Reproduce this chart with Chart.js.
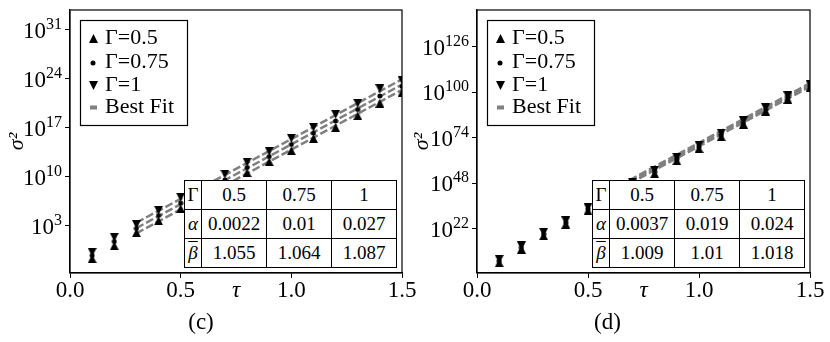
<!DOCTYPE html>
<html>
<head>
<meta charset="utf-8">
<script src="https://cdn.jsdelivr.net/npm/chart.js@4.4.1/dist/chart.umd.min.js"></script>
<style>
  body { margin: 0; background: #fff; }
  #fig { position: relative; width: 830px; height: 342px; overflow: hidden; }
  .panel { position: absolute; top: 0; height: 342px; }
  #panelC { left: 0; width: 420px; }
  #panelD { left: 405px; width: 425px; }
  .panel canvas { position: absolute; left: 0; top: 0; }
  .inset { position: absolute; top: 180px; border-collapse: collapse; table-layout: fixed; background: #fff;
           font-family: 'Liberation Serif', serif; font-size: 19px; color: #000; }
  .inset td { border: 1px solid #000; text-align: center; vertical-align: middle; height: 28px; padding: 0; white-space: nowrap; }
  .inset .bar { text-decoration: overline; }
  #tableC { left: 184px; width: 212px; }
  #tableD { left: 187px; width: 211px; }
</style>
</head>
<body>
<div id="fig">
  <div class="panel" id="panelC"><canvas id="chartC" width="420" height="342"></canvas><table class="inset" id="tableC"></table></div>
  <div class="panel" id="panelD"><canvas id="chartD" width="425" height="342"></canvas><table class="inset" id="tableD"></table></div>
</div>
<script>
// tau values of the measured points (both panels)
const tau = [0.1, 0.2, 0.3, 0.4, 0.5, 0.6, 0.7, 0.8, 0.9, 1.0, 1.1, 1.2, 1.3, 1.4, 1.5];

// panel (c): sigma^2 per Gamma
const cSigmaG05  = [2.1e-2, 1.5e0, 1.1e2, 5.6e3, 3.0e5, 1.3e7, 5.6e8, 4.1e10, 1.5e12, 5.6e13, 3.0e15, 1.1e17, 5.6e18, 3.4e20, 1.1e22];
const cSigmaG075 = [6.2e-2, 6.2e0, 4.4e2, 3.2e4, 1.9e6, 8.5e7, 3.7e9, 2.3e11, 8.5e12, 4.4e14, 1.9e16, 1.0e18, 4.4e19, 3.7e21, 8.5e22];
const cSigmaG1   = [1.8e-1, 2.5e1, 1.7e3, 1.8e5, 1.3e7, 5.6e8, 2.5e10, 1.3e12, 4.8e13, 3.4e15, 1.3e17, 9.1e18, 3.4e20, 4.1e22, 6.6e23];
const cFitTau  = [0.3, 1.5];
const cFitG05  = [9e1, 2.8e22];
const cFitG075 = [5.1e2, 1.6e23];
const cFitG1   = [2.9e3, 9e23];
const cTicks = [1e3, 1e10, 1e17, 1e24, 1e31];
const cAlpha = ['0.0022', '0.01', '0.027'];
const cBeta  = ['1.055', '1.064', '1.087'];

// panel (d)
const dSigmaG05  = [5e2, 2.5e10, 1.3e18, 5e24, 2.5e32, 4e39, 5e46, 4e53, 1e61, 8e67, 5e74, 8e81, 2e89, 1.3e96, 5e102];
const dSigmaG075 = [5e3, 2.5e11, 1.3e19, 5e25, 2.5e33, 4e40, 5e47, 4e54, 1e62, 8e68, 5e75, 8e82, 2e90, 1.3e97, 5e103];
const dSigmaG1   = [5e4, 2.5e12, 1.3e20, 5e26, 2.5e34, 4e41, 5e48, 4e55, 1e63, 8e69, 5e76, 8e83, 2e91, 1.3e98, 5e104];
const dFitTau  = [0.6, 1.5];
const dFitG05  = [1e42, 2e103];
const dFitG075 = [1e43, 2e104];
const dFitG1   = [1e44, 2e105];
const dTicks = [1e22, 1e48, 1e74, 1e100, 1e126];
const dAlpha = ['0.0037', '0.019', '0.024'];
const dBeta  = ['1.009', '1.01', '1.018'];

const gammaVals = ['0.5', '0.75', '1'];
const seriesLabels = ['Γ=0.5', 'Γ=0.75', 'Γ=1', 'Best Fit'];
const xTicks = [0, 0.5, 1.0, 1.5];

const serif = '"Liberation Serif", serif';
const fitColor = '#808080';
Chart.defaults.color = '#000';
Chart.defaults.font.family = serif;

// matplotlib-like markers
function marker(kind) {
  const c = document.createElement('canvas');
  const s = kind === 'dot' ? 6 : 9;
  c.width = s; c.height = s;
  const g = c.getContext('2d');
  g.fillStyle = '#000';
  g.beginPath();
  if (kind === 'up') { g.moveTo(s / 2, 0); g.lineTo(s, s); g.lineTo(0, s); }
  else if (kind === 'down') { g.moveTo(0, 0); g.lineTo(s, 0); g.lineTo(s / 2, s); }
  else { g.arc(s / 2, s / 2, 2.5, 0, Math.PI * 2); }
  g.closePath();
  g.fill();
  return c;
}
const upMark = marker('up'), dotMark = marker('dot'), downMark = marker('down');

const pts = (xs, ys) => xs.map((x, i) => ({x: x, y: ys[i]}));

// box around the axes
const frame = {
  id: 'frame',
  afterDraw(chart) {
    const a = chart.chartArea, ctx = chart.ctx;
    ctx.save();
    ctx.strokeStyle = '#000';
    ctx.lineWidth = 1.2;
    ctx.strokeRect(a.left, a.top, a.right - a.left, a.bottom - a.top);
    ctx.restore();
  }
};

// 10^n tick labels
const powerTicks = {
  id: 'powerTicks',
  afterDraw(chart) {
    const y = chart.scales.y, ctx = chart.ctx;
    const xr = y.right - 8;
    ctx.save();
    ctx.fillStyle = '#000';
    ctx.textAlign = 'right';
    ctx.textBaseline = 'alphabetic';
    y.ticks.forEach(t => {
      const py = y.getPixelForValue(t.value);
      const e = String(Math.round(Math.log10(t.value)));
      ctx.font = '16px ' + serif;
      const ew = ctx.measureText(e).width;
      ctx.fillText(e, xr, py - 1);
      ctx.font = '23px ' + serif;
      ctx.fillText('10', xr - ew, py + 8);
    });
    ctx.restore();
  }
};

const insetLegend = {
  id: 'insetLegend',
  afterDatasetsDraw(chart) {
    const a = chart.chartArea, ctx = chart.ctx, ds = chart.data.datasets;
    const rowY = [28.5, 52.5, 75.5, 97.5];
    ctx.save();
    ctx.fillStyle = '#fff';
    ctx.fillRect(a.left + 10.5, a.top + 10.5, 107, 105);
    ctx.strokeStyle = '#000';
    ctx.lineWidth = 1.2;
    ctx.strokeRect(a.left + 10.5, a.top + 10.5, 107, 105);
    ctx.font = '22px ' + serif;
    ctx.textBaseline = 'middle';
    for (let i = 0; i < 4; i++) {
      const d = ds[i], y = a.top + rowY[i], mx = a.left + 23;
      if (d.showLine) {
        ctx.fillStyle = fitColor;
        ctx.fillRect(mx - 3, y - 2, 7, 4);
      } else {
        ctx.drawImage(d.pointStyle, Math.round(mx - d.pointStyle.width / 2), Math.round(y - d.pointStyle.height / 2));
      }
      ctx.fillStyle = '#000';
      ctx.fillText(d.label, a.left + 35, y);
    }
    ctx.restore();
  }
};

function markerSet(label, ys, img) {
  return {label: label, data: pts(tau, ys), pointStyle: img, pointRadius: 4, showLine: false, clip: 0, order: 0};
}
function fitSet(xs, ys) {
  return {label: seriesLabels[3], data: pts(xs, ys), showLine: true, borderColor: fitColor, borderWidth: 2.5,
          borderDash: [8, 3], pointRadius: 0, clip: 0, order: 1};
}

function makePanel(id, p) {
  return new Chart(document.getElementById(id), {
    type: 'scatter',
    data: {
      datasets: [
        markerSet(seriesLabels[0], p.g05, upMark),
        markerSet(seriesLabels[1], p.g075, dotMark),
        markerSet(seriesLabels[2], p.g1, downMark),
        fitSet(p.fitTau, p.fit05),
        fitSet(p.fitTau, p.fit075),
        fitSet(p.fitTau, p.fit1)
      ]
    },
    options: {
      responsive: false,
      animation: false,
      events: [],
      layout: { padding: { top: 10, right: p.padRight, left: 0, bottom: 0 } },
      plugins: {
        legend: { display: false },
        tooltip: { enabled: false },
        title: {
          display: true, position: 'bottom', text: p.caption, color: '#000',
          font: { family: serif, size: 23, weight: 'normal', lineHeight: 1.2 },
          padding: { top: 0, bottom: 5 }
        }
      },
      scales: {
        x: {
          type: 'linear', min: 0, max: 1.5,
          afterBuildTicks: s => { s.ticks = xTicks.map(v => ({value: v})); },
          afterFit: s => { s.height = 36.5; s.paddingLeft = 0; s.paddingRight = 0; },
          ticks: { callback: v => v.toFixed(1), font: { size: 23 }, padding: -1, maxRotation: 0, autoSkip: false },
          grid: { drawOnChartArea: false, drawTicks: true, tickLength: 5, color: '#000' },
          border: { color: '#000', width: 1.2 },
          title: { display: true, text: 'τ', font: { size: 23, style: 'italic' }, padding: { top: 0, bottom: 4.5 } }
        },
        y: {
          type: 'logarithmic', min: p.yMin, max: p.yMax,
          afterBuildTicks: s => { s.ticks = p.yTicks.map(v => ({value: v})); },
          afterFit: s => { s.width = p.yWidth; s.paddingTop = 0; s.paddingBottom = 0; },
          ticks: { display: false },
          grid: { drawOnChartArea: false, drawTicks: true, tickLength: 5, color: '#000' },
          border: { color: '#000', width: 1.2 },
          title: { display: true, text: 'σ²', font: { size: 22, style: 'italic' }, padding: { top: 3.8 } }
        }
      }
    },
    plugins: [frame, powerTicks, insetLegend]
  });
}

function makeTable(id, alpha, beta) {
  const t = document.getElementById(id);
  const cg = document.createElement('colgroup');
  [17, 65, 65, 65].forEach(w => { const c = document.createElement('col'); c.style.width = w + 'px'; cg.appendChild(c); });
  t.appendChild(cg);
  const rows = [['Γ', gammaVals, ''], ['α', alpha, 'italic'], ['β', beta, 'italic bar']];
  rows.forEach(r => {
    const tr = document.createElement('tr');
    const th = document.createElement('td');
    const sym = document.createElement('span');
    sym.textContent = r[0];
    if (r[2].includes('italic')) sym.style.fontStyle = 'italic';
    if (r[2].includes('bar')) sym.className = 'bar';
    th.appendChild(sym);
    tr.appendChild(th);
    r[1].forEach(v => { const td = document.createElement('td'); td.textContent = v; tr.appendChild(td); });
    t.appendChild(tr);
  });
}

makePanel('chartC', {
  caption: '(c)', g05: cSigmaG05, g075: cSigmaG075, g1: cSigmaG1,
  fitTau: cFitTau, fit05: cFitG05, fit075: cFitG075, fit1: cFitG1,
  yTicks: cTicks, yMin: 2e-4, yMax: 7e33, yWidth: 70, padRight: 18
});
makePanel('chartD', {
  caption: '(d)', g05: dSigmaG05, g075: dSigmaG075, g1: dSigmaG1,
  fitTau: dFitTau, fit05: dFitG05, fit075: dFitG075, fit1: dFitG1,
  yTicks: dTicks, yMin: 8e-4, yMax: 1.3e147, yWidth: 72, padRight: 20
});
makeTable('tableC', cAlpha, cBeta);
makeTable('tableD', dAlpha, dBeta);
</script>
</body>
</html>
